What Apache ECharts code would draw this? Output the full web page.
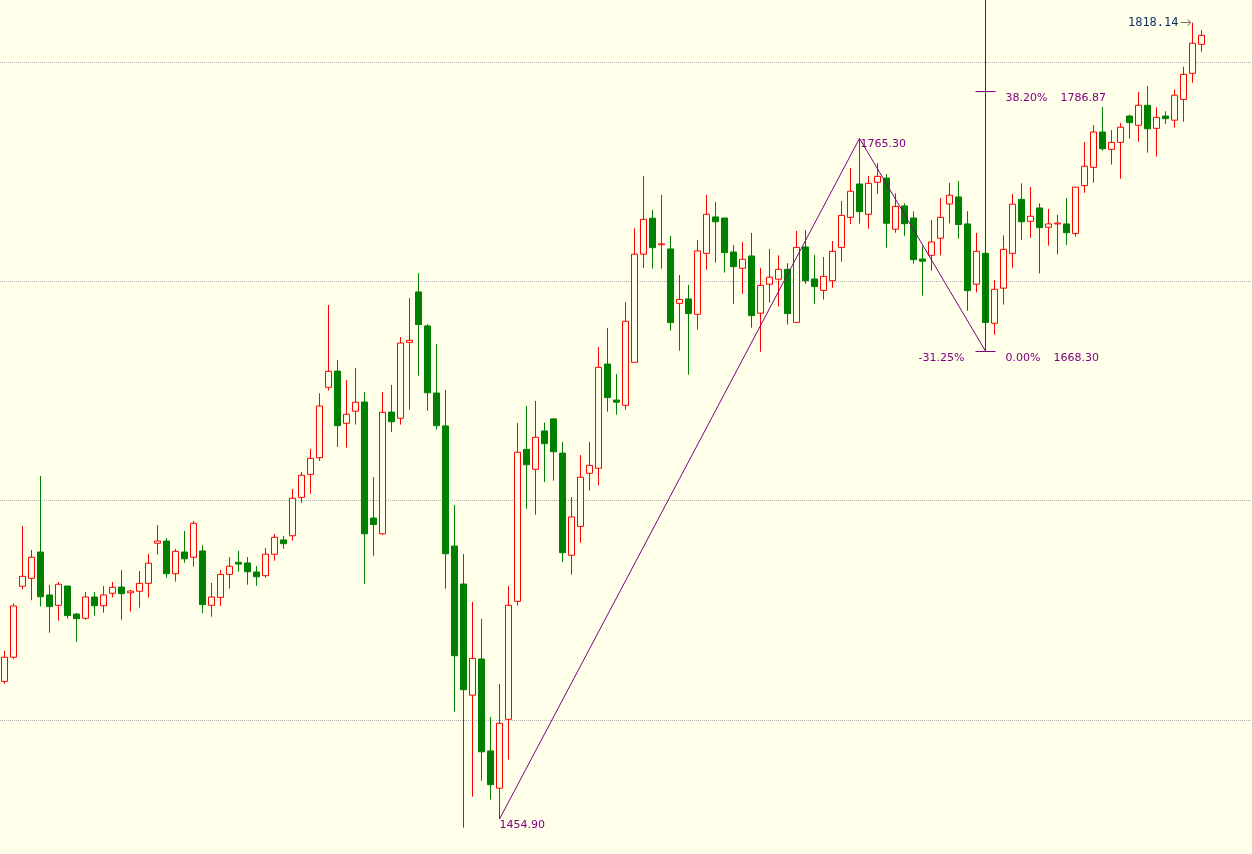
<!DOCTYPE html>
<html>
<head>
<meta charset="utf-8">
<script src="https://cdn.jsdelivr.net/npm/echarts@6/dist/echarts.min.js"></script>
<style>
html,body{margin:0;padding:0;background:#FFFFEA;}
#c{width:1252px;height:854px;}
</style>
</head>
<body>
<div id="c"></div>
<script>
// ---- data ----
const open = [1517.7,1528.7,1561.1,1564.7,1576.7,1557.1,1552.4,1561.2,1548.4,1546.5,1556.2,1552.2,1557.9,1560.7,1558.1,1558.8,1562.4,1580.7,1581.7,1566.8,
1576.7,1574.3,1577.2,1552.4,1556.0,1566.5,1572.0,1571.7,1567.6,1565.9,1575.7,1582.2,1584.1,1601.6,1612.1,1619.7,1651.8,1659.2,1635.4,1640.9,
1645.1,1592.2,1585.0,1640.5,1637.7,1672.3,1695.3,1679.8,1649.2,1634.2,1579.4,1562.1,1511.4,1527.9,1486.0,1469.0,1500.4,1554.2,1623.5,1614.4,
1631.9,1637.4,1621.8,1575.2,1588.4,1612.6,1614.9,1662.4,1646.0,1643.6,1663.2,1712.5,1728.9,1716.8,1714.9,1690.1,1692.1,1685.1,1712.9,1729.5,
1729.0,1713.5,1706.1,1711.7,1685.6,1698.8,1701.1,1705.6,1681.4,1715.8,1701.2,1696.0,1700.4,1715.6,1729.3,1744.5,1730.7,1745.3,1747.2,1723.9,
1734.5,1729.0,1710.3,1712.0,1719.8,1735.4,1738.6,1726.3,1698.8,1712.9,1681.0,1697.0,1712.9,1737.5,1727.5,1733.6,1724.8,1726.3,1726.3,1721.9,
1743.8,1752.1,1768.2,1760.3,1763.5,1775.5,1771.3,1780.4,1769.9,1775.5,1773.6,1783.1,1795.0,1808.2];
const close = [1528.7,1552.1,1565.6,1574.3,1556.3,1551.8,1562.0,1547.7,1546.3,1556.2,1552.2,1557.1,1560.6,1557.7,1558.9,1562.4,1571.6,1581.7,1566.8,1577.0,
1573.6,1589.8,1552.7,1556.2,1566.5,1570.2,1571.2,1567.7,1565.4,1575.7,1583.4,1580.5,1601.2,1611.7,1619.4,1643.3,1659.1,1634.3,1639.5,1645.0,
1585.0,1589.2,1640.4,1636.1,1672.0,1673.2,1680.4,1649.3,1634.3,1575.9,1529.4,1513.9,1528.2,1485.6,1470.6,1498.6,1552.4,1622.2,1616.5,1629.0,
1626.1,1622.4,1576.4,1592.7,1610.8,1616.2,1660.9,1647.1,1645.0,1681.9,1712.5,1728.4,1715.5,1717.2,1681.3,1691.9,1685.4,1714.0,1730.7,1727.3,
1713.2,1706.8,1710.2,1684.5,1698.3,1702.0,1705.6,1685.4,1715.6,1700.4,1697.7,1702.4,1713.8,1730.2,1741.2,1731.9,1744.8,1748.0,1726.6,1734.3,
1726.4,1710.0,1709.3,1718.1,1729.3,1739.4,1726.0,1695.9,1713.8,1681.4,1696.5,1714.7,1735.3,1727.3,1729.8,1724.6,1726.3,1726.7,1722.3,1743.1,
1752.6,1768.2,1760.6,1763.5,1770.4,1772.5,1780.4,1769.7,1774.9,1774.3,1785.0,1794.5,1808.7,1812.3];
const low = [1516.6,1527.8,1559.7,1554.7,1551.8,1539.9,1545.4,1546.3,1535.8,1545.8,1547.7,1549.0,1556.0,1545.8,1549.5,1551.3,1555.9,1575.5,1565.0,1563.2,
1571.8,1570.0,1548.8,1547.2,1552.2,1560.0,1567.7,1561.8,1561.3,1565.0,1572.7,1578.2,1581.9,1599.2,1603.3,1618.2,1650.3,1624.6,1624.3,1634.8,
1562.2,1575.0,1584.5,1631.4,1634.8,1641.6,1657.1,1641.1,1632.5,1560.0,1503.9,1451.0,1465.1,1472.4,1463.8,1454.9,1482.0,1552.2,1596.4,1593.7,
1608.6,1609.2,1572.1,1566.4,1580.9,1604.7,1607.1,1640.7,1639.3,1641.6,1663.2,1706.2,1705.9,1705.9,1677.6,1668.5,1657.6,1678.1,1705.4,1708.6,
1704.1,1689.9,1694.5,1679.0,1668.0,1690.4,1688.6,1680.4,1681.4,1699.0,1689.9,1691.8,1697.2,1709.1,1726.3,1726.4,1724.1,1740.0,1715.5,1722.3,
1720.9,1708.2,1693.6,1705.0,1712.0,1726.6,1719.6,1686.7,1695.1,1668.3,1675.8,1689.5,1706.3,1719.0,1720.0,1703.7,1716.4,1712.4,1716.7,1720.5,
1740.5,1745.1,1759.7,1753.4,1746.9,1765.2,1763.8,1758.8,1757.0,1771.9,1770.2,1772.9,1790.7,1804.8];
const high = [1531.6,1553.3,1588.6,1577.6,1611.4,1561.7,1563.0,1561.2,1548.9,1558.5,1558.5,1561.2,1563.0,1568.5,1559.4,1568.0,1575.8,1589.0,1583.1,1578.1,
1586.3,1590.8,1579.8,1562.6,1568.5,1574.4,1577.2,1574.4,1570.3,1578.5,1584.9,1584.0,1605.4,1613.2,1623.7,1649.1,1689.3,1664.3,1655.1,1660.6,
1649.7,1610.9,1649.7,1652.9,1674.7,1692.5,1703.9,1680.7,1671.6,1650.6,1598.1,1575.8,1554.0,1546.2,1501.5,1516.5,1561.2,1635.5,1643.3,1645.6,
1635.7,1637.8,1626.9,1601.8,1620.9,1626.9,1670.2,1678.8,1657.9,1690.7,1724.3,1748.2,1732.7,1739.5,1720.8,1703.0,1698.5,1719.0,1739.5,1736.3,
1729.0,1716.7,1718.1,1722.2,1706.3,1714.9,1712.0,1708.4,1723.1,1723.5,1712.1,1711.2,1718.5,1736.8,1751.8,1765.3,1748.2,1754.0,1749.1,1740.3,
1735.7,1732.0,1716.1,1728.1,1738.1,1745.0,1745.9,1732.1,1722.2,1714.4,1700.7,1721.1,1740.0,1744.8,1743.1,1735.7,1733.1,1730.4,1738.1,1743.1,
1763.7,1771.4,1779.6,1769.1,1772.3,1776.1,1786.5,1789.2,1779.5,1777.7,1787.5,1798.0,1818.14,1814.7];
const categories = open.map((_, i) => String(i + 1));

// zigzag pivots (bar index, price)
const zigzagIndex = [55, 95, 109];
const zigzagPrice = [1454.90, 1765.30, 1668.30];
// fibonacci projection levels at the last pivot
const fibIndex = 109;
const fibPercent = ['38.20%', '0.00%'];
const fibPrice = [1786.87, 1668.30];
const retraceLabel = '-31.25%';
// last high marker
const lastHighIndex = 132;
const lastHighPrice = 1818.14;
// horizontal grid levels and visible price range
const gridLevels = [1500, 1600, 1700, 1800];
const yMin = 1438.99, yMax = 1828.41;

// ---- styles ----
const BG = '#FFFFEA';
const PURPLE = '#800080';
const FONT = '11px "DejaVu Sans"';

const ohlc = open.map((o, i) => [o, close[i], low[i], high[i]]);
const zigzag = zigzagIndex.map((x, i) => [x, zigzagPrice[i]]);

function crisp(v) { return Math.round(v - 0.5) + 0.5; }

function gridRender(params, api) {
  const w = api.getWidth();
  return {
    type: 'group',
    children: gridLevels.map(v => {
      const y = crisp(api.coord([0, v])[1]);
      return { type: 'line', shape: { x1: 0, y1: y, x2: w, y2: y },
        style: { stroke: '#B0B0B0', lineWidth: 1, lineDash: [1, 1] } };
    })
  };
}

function annRender(params, api) {
  const cs = params.coordSys;
  const children = [];
  const txt = (x, y, text, align, vAlign, fill, font) => ({
    type: 'text', x: x, y: y,
    style: { text: text, fill: fill || PURPLE, font: font || FONT, align: align, verticalAlign: vAlign }
  });
  // zigzag labels
  const p0 = api.coord([zigzagIndex[0], zigzagPrice[0]]);
  children.push(txt(p0[0], p0[1] + 1, zigzagPrice[0].toFixed(2), 'left', 'top'));
  const p1 = api.coord([zigzagIndex[1], zigzagPrice[1]]);
  children.push(txt(p1[0] + 1, p1[1], zigzagPrice[1].toFixed(2), 'left', 'top'));
  // fib projection
  const fx = api.coord([fibIndex, fibPrice[1]])[0];
  const y0 = crisp(api.coord([fibIndex, fibPrice[1]])[1]);
  children.push({ type: 'line', shape: { x1: fx, y1: cs.y, x2: fx, y2: y0 },
    style: { stroke: PURPLE, lineWidth: 1 } });
  fibPrice.forEach((p, k) => {
    const y = crisp(api.coord([fibIndex, p])[1]);
    children.push({ type: 'line', shape: { x1: fx - 10, y1: y, x2: fx + 10, y2: y },
      style: { stroke: PURPLE, lineWidth: 1 } });
    children.push({
      type: 'text', x: fx + 20, y: y + 1,
      style: {
        text: '{a|' + fibPercent[k] + '}{g|}{b|' + p.toFixed(2) + '}',
        verticalAlign: 'top', align: 'left',
        rich: {
          a: { fill: PURPLE, font: FONT },
          g: { width: 13, font: FONT },
          b: { fill: PURPLE, font: FONT }
        }
      }
    });
  });
  children.push(txt(fx - 21, y0 + 1, retraceLabel, 'right', 'top'));
  // last high arrow + label
  const h = api.coord([lastHighIndex, lastHighPrice]);
  const hy = crisp(h[1]);
  children.push({ type: 'line', shape: { x1: h[0] - 12, y1: hy, x2: h[0] - 2, y2: hy },
    style: { stroke: '#707070', lineWidth: 1 } });
  children.push({ type: 'polyline', shape: { points: [[h[0] - 5, hy - 3], [h[0] - 1.5, hy], [h[0] - 5, hy + 3]] },
    style: { stroke: '#707070', lineWidth: 1, fill: null } });
  children.push(txt(h[0] - 14, hy, lastHighPrice.toFixed(2), 'right', 'middle', '#0E2C5E', '12px "DejaVu Sans Mono"'));
  return { type: 'group', children: children };
}

const chart = echarts.init(document.getElementById('c'), null, { renderer: 'canvas' });
chart.setOption({
  backgroundColor: BG,
  animation: false,
  grid: { left: 0, top: 0, width: 1206, height: 854 },
  xAxis: { type: 'category', data: categories, show: false, boundaryGap: true },
  yAxis: { type: 'value', min: yMin, max: yMax, show: false },
  series: [
    { type: 'custom', name: 'grid', z: 1, silent: true, clip: false,
      data: [[0, gridLevels[0]]], renderItem: gridRender },
    { type: 'candlestick', name: 'price', z: 2, silent: true, data: ohlc, barWidth: 6,
      itemStyle: { color: BG, color0: '#008000', borderColor: '#FF0000', borderColor0: '#008000', borderWidth: 1 } },
    { type: 'line', name: 'zigzag', z: 3, silent: true, data: zigzag, symbol: 'none',
      lineStyle: { color: PURPLE, width: 1 } },
    { type: 'custom', name: 'annotations', z: 4, silent: true, clip: false,
      data: [[0, gridLevels[0]]], renderItem: annRender }
  ]
});
</script>
</body>
</html>
